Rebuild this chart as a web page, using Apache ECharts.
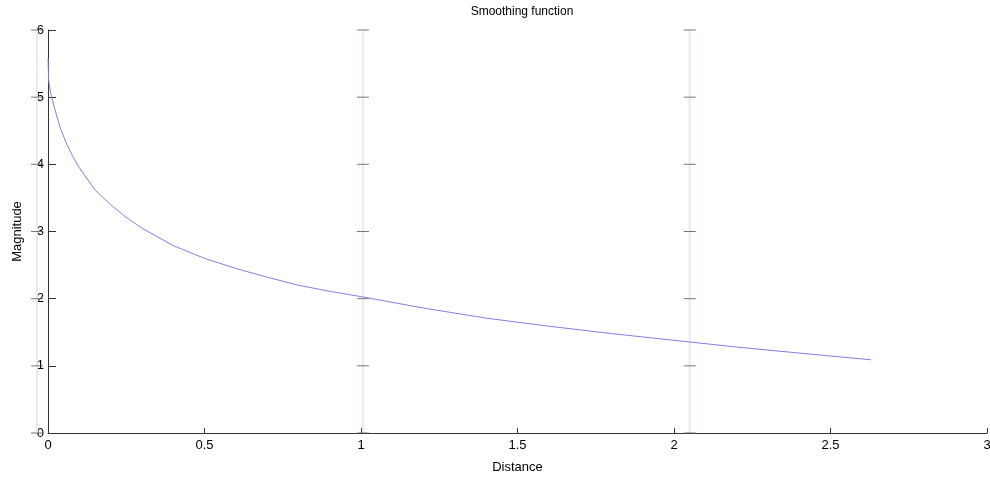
<!DOCTYPE html>
<html>
<head>
<meta charset="utf-8">
<script src="https://cdn.jsdelivr.net/npm/echarts@6/dist/echarts.min.js"></script>
<style>html,body{margin:0;padding:0;background:#fff;}#c{width:990px;height:481px;}</style>
</head>
<body>
<div id="c"></div>
<script>
const distance = [0, 0.002, 0.005, 0.01, 0.02, 0.04, 0.06, 0.08, 0.1, 0.15, 0.2, 0.25, 0.3, 0.4, 0.5, 0.6, 0.7, 0.8, 0.9, 1.0, 1.2, 1.4, 1.6, 1.8, 2.0, 2.2, 2.4, 2.63];
const magnitude = [5.58, 5.25, 5.16, 5.03, 4.85, 4.53, 4.30, 4.11, 3.95, 3.62, 3.40, 3.21, 3.05, 2.79, 2.60, 2.45, 2.32, 2.20, 2.11, 2.03, 1.86, 1.71, 1.59, 1.48, 1.38, 1.28, 1.19, 1.09];
const markerX = [-0.035, 1.006, 2.05];
const yTicks = [0, 1, 2, 3, 4, 5, 6];
const xTicks = [0, 0.5, 1, 1.5, 2, 2.5, 3];
const extMin = -0.15;

const chart = echarts.init(document.getElementById('c'));
const font = 'Liberation Sans, Arial, sans-serif';
const gLeft = 48, gRight = 3;
const unitPx = (990 - gLeft - gRight) / (xTicks[xTicks.length - 1] - xTicks[0]);

const series = [];
markerX.forEach(function (mx) {
  series.push({
    type: 'line', xAxisIndex: 1, yAxisIndex: 1, silent: true, symbol: 'none',
    lineStyle: { color: '#f6e2f6', width: 2 },
    data: [[mx, yTicks[0]], [mx, yTicks[yTicks.length - 1]]],
    z: 1
  });
  series.push({
    type: 'scatter', xAxisIndex: 1, yAxisIndex: 1, silent: true, symbol: 'rect', symbolSize: [12, 1],
    itemStyle: { color: '#555' },
    data: yTicks.map(function (v) { return [mx, v]; }),
    z: 2
  });
});
series.push({
  type: 'line', symbol: 'none', clip: false,
  lineStyle: { color: '#8080e0', width: 1 },
  data: distance.map(function (d, i) { return [d, magnitude[i]]; }),
  z: 3
});

chart.setOption({
  animation: false,
  backgroundColor: '#fff',
  title: {
    text: 'Smoothing function', left: 517, top: 1, textAlign: 'center',
    textStyle: { fontFamily: font, fontSize: 12, fontWeight: 'normal', color: '#000' }
  },
  grid: [
    { left: gLeft, right: gRight, top: 30, bottom: 48, outerBoundsMode: 'none', containLabel: false },
    { left: gLeft + extMin * unitPx, right: gRight, top: 30, bottom: 48, outerBoundsMode: 'none', containLabel: false }
  ],
  xAxis: [{
    type: 'value', gridIndex: 0, min: xTicks[0], max: xTicks[xTicks.length - 1], interval: 0.5,
    name: 'Distance', nameLocation: 'middle', nameGap: 28,
    nameTextStyle: { fontFamily: font, fontSize: 13, color: '#000' },
    axisLine: { show: true, lineStyle: { color: '#333', width: 1 } },
    axisTick: { show: true, inside: true, length: 5, lineStyle: { color: '#333' } },
    axisLabel: { fontFamily: font, fontSize: 13, color: '#000', margin: 6, showMaxLabel: true },
    splitLine: { show: false }
  }, {
    type: 'value', gridIndex: 1, min: extMin, max: xTicks[xTicks.length - 1], show: false
  }],
  yAxis: [{
    type: 'value', gridIndex: 0, min: yTicks[0], max: yTicks[yTicks.length - 1], interval: 1,
    name: 'Magnitude', nameLocation: 'middle', nameGap: 24, nameRotate: 90,
    nameTextStyle: { fontFamily: font, fontSize: 13, color: '#000' },
    axisLine: { show: true, lineStyle: { color: '#333', width: 1 } },
    axisTick: { show: true, inside: true, length: 8, lineStyle: { color: '#333' } },
    axisLabel: { fontFamily: font, fontSize: 13, color: '#000', margin: 4 },
    splitLine: { show: false }
  }, {
    type: 'value', gridIndex: 1, min: yTicks[0], max: yTicks[yTicks.length - 1], show: false
  }],
  series: series
});
</script>
</body>
</html>
